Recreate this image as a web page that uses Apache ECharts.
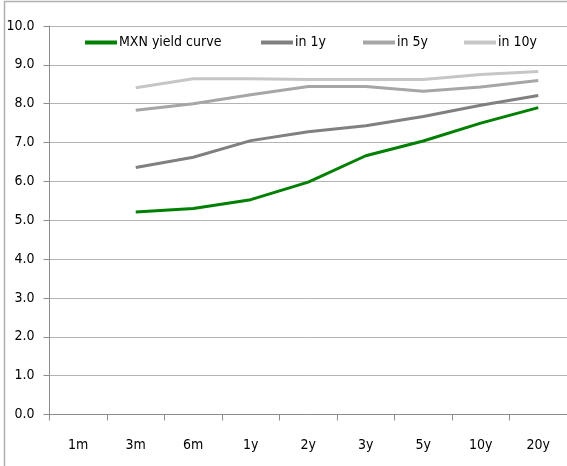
<!DOCTYPE html>
<html>
<head>
<meta charset="utf-8">
<style>
  html, body { margin: 0; padding: 0; background: #fff; }
  #chart { width: 567px; height: 466px; }
</style>
<script src="https://cdn.jsdelivr.net/npm/echarts@6/dist/echarts.min.js"></script>
</head>
<body>
<div id="chart"></div>
<script>
// Tenors along the curve
const tenors = ['1m', '3m', '6m', '1y', '2y', '3y', '5y', '10y', '20y'];

// Spot curve and forward curves (%); no 1m point
const mxnCurve = [null, 5.21, 5.30, 5.53, 5.98, 6.66, 7.04, 7.50, 7.90];
const in1y     = [null, 6.36, 6.62, 7.05, 7.28, 7.43, 7.67, 7.96, 8.21];
const in5y     = [null, 7.83, 8.00, 8.23, 8.44, 8.44, 8.32, 8.43, 8.60];
const in10y    = [null, 8.41, 8.64, 8.64, 8.62, 8.62, 8.62, 8.75, 8.83];

const seriesNames = ['MXN yield curve', 'in 1y', 'in 5y', 'in 10y'];
const seriesColors = ['#008000', '#808080', '#a6a6a6', '#c6c6c6'];
const seriesValues = [mxnCurve, in1y, in5y, in10y];

const FONT = '"DejaVu Sans Condensed", "Liberation Sans", sans-serif';

const chart = echarts.init(document.getElementById('chart'), null, { renderer: 'canvas' });

// one legend block per series so each entry sits at its own spot
const legendLefts = [85, 261, 363, 464];

chart.setOption({
  animation: false,
  backgroundColor: '#ffffff',
  textStyle: { fontFamily: FONT },
  grid: { left: 49.5, right: 0, top: 26, bottom: 51.5, containLabel: false },
  legend: seriesNames.map((name, i) => ({
    data: [{ name: name, icon: 'rect' }],
    left: legendLefts[i],
    top: 35.5,
    padding: 0,
    itemWidth: 32,
    itemHeight: 4,
    itemGap: 0,
    textStyle: { fontFamily: FONT, fontSize: 14, color: '#000', padding: [0, 0, 0, -3] }
  })),
  xAxis: {
    type: 'category',
    data: tenors,
    boundaryGap: true,
    axisLine: { lineStyle: { color: '#8c8c8c', width: 1 } },
    axisTick: { show: true, length: 6, lineStyle: { color: '#8c8c8c' } },
    axisLabel: { color: '#000', fontSize: 14, fontFamily: FONT, margin: 24 },
    splitLine: { show: false }
  },
  yAxis: {
    type: 'value',
    min: 0,
    max: 10,
    interval: 1,
    axisLine: { show: true, lineStyle: { color: '#8c8c8c', width: 1 } },
    axisTick: { show: true, length: 6, lineStyle: { color: '#8c8c8c' } },
    axisLabel: {
      color: '#000', fontSize: 14, fontFamily: FONT, margin: 15,
      formatter: v => v.toFixed(1)
    },
    splitLine: { show: true, lineStyle: { color: '#b4b4b4', width: 1 } }
  },
  series: seriesNames.map((name, i) => ({
    name: name,
    type: 'line',
    data: seriesValues[i],
    symbol: 'none',
    showSymbol: false,
    connectNulls: false,
    color: seriesColors[i],
    lineStyle: { color: seriesColors[i], width: 3 },
    z: 10 - i
  })),
  graphic: [
    {
      type: 'polyline',
      shape: { points: [[4.5, 466], [4.5, 1.5], [567, 1.5]] },
      style: { stroke: '#b0b0b0', lineWidth: 1.5, fill: null },
      silent: true
    }
  ]
});
</script>
</body>
</html>
